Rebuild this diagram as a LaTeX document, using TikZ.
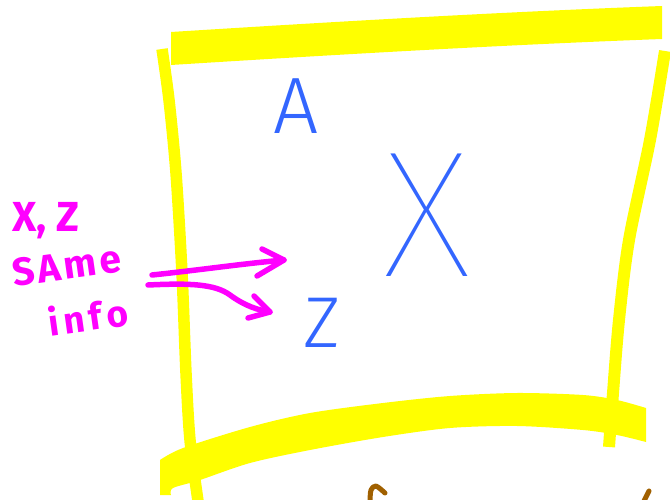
\documentclass[tikz,border=0pt]{standalone}
\usepackage{fontspec}
\setmainfont{Fira Sans}
\newfontfamily\fthin{Fira Sans Thin}
\newfontfamily\flight{Fira Sans Light}
\definecolor{hlyellow}{RGB}{255,255,0}
\definecolor{penblue}{RGB}{51,102,255}
\definecolor{penmag}{RGB}{255,0,255}
\definecolor{penbrown}{RGB}{160,96,0}
\begin{document}
\begin{tikzpicture}[x=1pt,y=-1pt,
  frame/.style={draw=hlyellow,line width=12pt},
  bluelabel/.style={text=penblue,inner sep=0pt},
  maglabel/.style={text=penmag,inner sep=0pt,font=\bfseries},
  magpen/.style={draw=penmag,line width=5.5pt,line cap=round,line join=round},
  brownpen/.style={draw=penbrown,line width=5pt,line cap=round,line join=round}]
\useasboundingbox (0,0) rectangle (670,500);
% yellow frame
\fill[hlyellow] (171,32) .. controls (330,22) and (500,12) .. (662,6) -- (662,39)
  .. controls (500,45) and (330,55) .. (171,65) -- cycle;
\draw[frame,line width=11.5pt] plot[smooth] coordinates {(162,49) (169,100) (176,173) (182,273) (186,373) (190,440) (198,501)};
\draw[frame] plot[smooth] coordinates {(665,51) (650,140) (629,240) (619,320) (613,393) (609,447)};
\fill[hlyellow] plot[smooth] coordinates {(160,460) (183,448) (250,427) (310,413) (383,403) (450,396) (517,393) (583,395) (617,400) (646,408)}
  -- plot[smooth] coordinates {(646,442) (617,435) (583,430) (517,426) (450,428) (383,437) (310,450) (250,463) (200,480) (173,488) (171,495)}
  -- (160,495) -- cycle;
% brown marks
\draw[brownpen] plot[smooth] coordinates {(370,501) (371,490) (376,486) (385,493)};
\draw[brownpen] (644,501) -- (649,491);
% blue letters
\node[bluelabel] (a) at (296,106) {\flight\fontsize{80}{80}\selectfont A};
\node[bluelabel] (x) at (427,215) {\fthin\fontsize{180}{180}\selectfont X};
\node[bluelabel] (z) at (322,323) {\flight\fontsize{72}{72}\selectfont Z};
% magenta note
\node[maglabel,anchor=base west] (xz) at (12,232) {\fontsize{42}{42}\selectfont X, Z};
\node[maglabel,rotate=8] (same) at (67,266) {\fontsize{39}{39}\selectfont\addfontfeatures{LetterSpace=8}SAme};
\node[maglabel,rotate=8] (info) at (88,316) {\fontsize{37}{37}\selectfont\addfontfeatures{LetterSpace=12}info};
% arrows
\coordinate (a1s) at (152,275);
\coordinate (a1e) at (284,260);
\coordinate (a2s) at (148,285);
\coordinate (a2e) at (270,312);
\draw[magpen] (a1s) .. controls (200,270) and (240,264) .. (a1e);
\draw[magpen] (262,249) -- (a1e) -- (257,276);
\draw[magpen] (a2s) .. controls (190,283) and (215,284) .. (230,295) .. controls (245,306) and (258,310) .. (a2e);
\draw[magpen] (254,296) -- (a2e) -- (248,318);
\end{tikzpicture}
\end{document}
